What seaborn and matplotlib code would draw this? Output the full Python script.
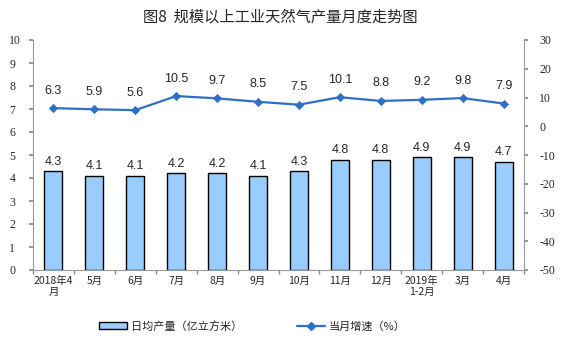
import matplotlib
matplotlib.use("Agg")
import matplotlib.pyplot as plt
import seaborn as sns
import pandas as pd
import numpy as np
from matplotlib.patches import Patch
from matplotlib.lines import Line2D

months = ["2018年4\n月", "5月", "6月", "7月", "8月", "9月", "10月", "11月", "12月", "2019年\n1-2月", "3月", "4月"]
output = [4.3, 4.1, 4.1, 4.2, 4.2, 4.1, 4.3, 4.8, 4.8, 4.9, 4.9, 4.7]
growth = [6.3, 5.9, 5.6, 10.5, 9.7, 8.5, 7.5, 10.1, 8.8, 9.2, 9.8, 7.9]
left_ticks = list(range(0, 11))
right_ticks = list(range(-50, 31, 10))

sns.set_theme(style="white")
plt.rcParams['font.family'] = ['Liberation Serif', 'Noto Sans CJK SC', 'DejaVu Sans']
CJK = ['Noto Sans CJK SC', 'DejaVu Sans']

df = pd.DataFrame({"month": months, "output": output, "growth": growth})

fig = plt.figure(figsize=(5.61, 3.57), dpi=100)
ax = fig.add_axes([33/561, 1-270/357, (524-33)/561, 230/357])

bar_color = "#99CCFF"
line_color = "#2F6FC4"

sns.barplot(data=df, x="month", y="output", order=months, color=bar_color,
            edgecolor="black", linewidth=1.0, width=0.44, saturation=1, ax=ax)
ax.set_ylim(0, 10)
ax.set_xlim(-0.5, len(months) - 0.5)
ax.set_yticks(left_ticks)
ax.set_yticklabels([str(t) for t in left_ticks])
ax.set_xticks(range(len(months)))
ax.set_xticklabels(months, fontfamily=CJK)
ax.set_xlabel("")
ax.set_ylabel("")
ax.tick_params(axis="x", length=0, labelsize=7.5, pad=4)
ax.tick_params(axis="y", length=3, color="#888888", direction="out", pad=14, left=True, labelsize=8.5)
ax.set_xticks(np.arange(-0.5, len(months)), minor=True)
ax.tick_params(axis="x", which="minor", length=3, color="#888888", bottom=True)
for lbl in ax.get_yticklabels():
    lbl.set_horizontalalignment("left")

for i, v in enumerate(output):
    ax.text(i, v + 0.15, f"{v:.1f}", ha="center", va="bottom", fontsize=9, family="Liberation Sans")

ax2 = ax.twinx()
sns.pointplot(data=df, x="month", y="growth", order=months, color=line_color,
              markers="D", markersize=3.5, linewidth=1.6, ax=ax2)
ax2.set_ylim(-50, 30)
ax2.set_yticks(right_ticks)
ax2.set_yticklabels([str(t) for t in right_ticks])
ax2.set_ylabel("")
ax2.set_xlabel("")
ax2.tick_params(axis="y", length=3, color="#888888", direction="out", pad=8, right=True, labelsize=8.5)
ax2.set_xlim(-0.5, len(months) - 0.5)
for i, v in enumerate(growth):
    ax2.text(i, v + 4.0, f"{v:.1f}", ha="center", va="bottom", fontsize=9, family="Liberation Sans")

for a in (ax, ax2):
    a.spines["top"].set_visible(False)
    for s in ("left", "right", "bottom"):
        a.spines[s].set_color("#999999")
        a.spines[s].set_linewidth(0.8)
ax2.spines["bottom"].set_visible(False)
ax2.spines["left"].set_visible(False)
ax.spines["right"].set_visible(False)

fig.text(0.5, 1-17/357, "图8  规模以上工业天然气产量月度走势图", ha="center", va="center",
         fontsize=11, fontweight="medium", family=CJK)

handles = [Patch(facecolor=bar_color, edgecolor="black", linewidth=1.0),
           Line2D([0], [0], color=line_color, marker="D", markersize=4, linewidth=1.6)]
fig.legend(handles, ["日均产量（亿立方米）", "当月增速（%）"], loc="center",
           bbox_to_anchor=(0.45, 1-326/357), ncol=2, frameon=False,
           prop={"family": CJK, "size": 8},
           columnspacing=5, handlelength=2.5, handletextpad=0.3)

fig.savefig("out.png", dpi=100)
